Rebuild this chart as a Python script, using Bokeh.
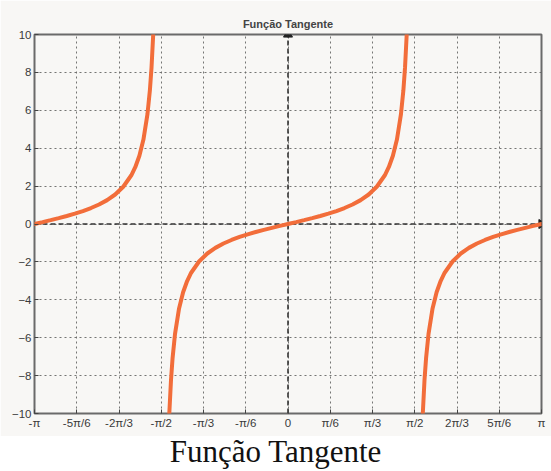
import math
from bokeh.plotting import figure
from bokeh.models import FixedTicker, LinearAxis, Range1d, Div
from bokeh.layouts import column
from bokeh.embed import file_html
from bokeh.resources import INLINE

# ---- data (y = tan x on three branches) ----
branch1_x = [-3.1416, -3.0416, -2.9416, -2.8416, -2.7416, -2.6416, -2.5416, -2.4416, -2.3416,
             -2.2416, -2.1416, -2.0416, -1.9416, -1.8916, -1.8416, -1.7916, -1.7416, -1.7116,
             -1.6916, -1.6705]
branch1_y = [0.0, 0.1003, 0.2027, 0.3093, 0.4228, 0.5463, 0.6841, 0.8423, 1.0296,
             1.2602, 1.5574, 1.9648, 2.5722, 3.0096, 3.6021, 4.4552, 5.7979, 7.0555,
             8.2381, 10.0]

branch2_x = [-1.4711, -1.45, -1.43, -1.4, -1.35, -1.3, -1.25, -1.2, -1.1, -1.0, -0.9, -0.8,
             -0.7, -0.6, -0.5, -0.4, -0.3, -0.2, -0.1, 0.0, 0.1, 0.2, 0.3, 0.4, 0.5, 0.6,
             0.7, 0.8, 0.9, 1.0, 1.1, 1.2, 1.25, 1.3, 1.35, 1.4, 1.43, 1.45, 1.4711]
branch2_y = [-10.0, -8.2381, -7.0555, -5.7979, -4.4552, -3.6021, -3.0096, -2.5722, -1.9648,
             -1.5574, -1.2602, -1.0296, -0.8423, -0.6841, -0.5463, -0.4228, -0.3093, -0.2027,
             -0.1003, 0.0, 0.1003, 0.2027, 0.3093, 0.4228, 0.5463, 0.6841, 0.8423, 1.0296,
             1.2602, 1.5574, 1.9648, 2.5722, 3.0096, 3.6021, 4.4552, 5.7979, 7.0555, 8.2381,
             10.0]

branch3_x = [1.6705, 1.6916, 1.7116, 1.7416, 1.7916, 1.8416, 1.8916, 1.9416, 2.0416, 2.1416,
             2.2416, 2.3416, 2.4416, 2.5416, 2.6416, 2.7416, 2.8416, 2.9416, 3.0416, 3.1416]
branch3_y = [-10.0, -8.2381, -7.0555, -5.7979, -4.4552, -3.6021, -3.0096, -2.5722, -1.9648,
             -1.5574, -1.2602, -1.0296, -0.8423, -0.6841, -0.5463, -0.4228, -0.3093, -0.2027,
             -0.1003, 0.0]

x_tick_sixths = [-6, -5, -4, -3, -2, -1, 0, 1, 2, 3, 4, 5, 6]
x_tick_labels = ["-π", "-5π/6", "-2π/3", "-π/2", "-π/3", "-π/6", "0",
                 "π/6", "π/3", "π/2", "2π/3", "5π/6", "π"]
y_ticks = [-10, -8, -6, -4, -2, 0, 2, 4, 6, 8, 10]

title_text = "Função Tangente"
caption_text = "Função Tangente"

# ---- figure ----
x_ticks = [k * math.pi / 6 for k in x_tick_sixths]
xmin, xmax = x_ticks[0], x_ticks[-1]
ymin, ymax = y_ticks[0], y_ticks[-1]

BG = "#f8f7f5"
p = figure(width=551, height=436, output_backend="svg", toolbar_location=None,
           x_range=Range1d(xmin, xmax), y_range=Range1d(ymin, ymax),
           x_axis_location=None, y_axis_location=None,
           min_border_left=34, min_border_right=10, min_border_top=34, min_border_bottom=23,
           background_fill_color=BG, border_fill_color=BG)

p.title.text = title_text
p.title.align = "center"
p.title.text_font = "Liberation Sans"
p.title.text_font_size = "11px"
p.title.text_font_style = "bold"
p.title.text_color = "#444444"
p.title.offset = 0

p.outline_line_color = "#6a6a6a"
p.outline_line_width = 2

overrides = {t: lab for t, lab in zip(x_ticks, x_tick_labels)}

def style_axis(ax):
    ax.axis_line_color = None
    ax.major_tick_in = 4
    ax.major_tick_out = 0
    ax.major_tick_line_color = "#444444"
    ax.major_tick_line_width = 1
    ax.minor_tick_line_color = None
    ax.major_label_text_font = "Liberation Sans"
    ax.major_label_text_color = "#3a3a3a"
    ax.major_label_text_font_size = "11.5px"
    ax.major_label_standoff = 3

bottom = LinearAxis(ticker=FixedTicker(ticks=x_ticks), major_label_overrides=overrides)
left = LinearAxis(ticker=FixedTicker(ticks=y_ticks))
style_axis(bottom)
style_axis(left)
p.add_layout(bottom, "below")
p.add_layout(left, "left")

p.xgrid.ticker = FixedTicker(ticks=x_ticks)
p.ygrid.ticker = FixedTicker(ticks=y_ticks)
for g in (p.xgrid, p.ygrid):
    g.grid_line_color = "#666666"
    g.grid_line_dash = "2 3"
    g.grid_line_width = 1
    g.grid_line_alpha = 0.9

# zero axes (dashed) with arrow heads
p.segment(x0=[0, xmin], y0=[ymin, 0], x1=[0, xmax], y1=[ymax, 0],
          line_color="#333333", line_width=1.6, line_dash="5 3")
p.scatter(x=[0], y=[ymax], marker="triangle", size=9, fill_color="#222222",
          line_color="#222222")
p.scatter(x=[xmax], y=[0], marker="triangle", angle=-math.pi / 2, size=9,
          fill_color="#222222", line_color="#222222")

curve_color = "#f26d3a"
for bx, by in ((branch1_x, branch1_y), (branch2_x, branch2_y), (branch3_x, branch3_y)):
    p.line(bx, by, line_color=curve_color, line_width=4, line_cap="round")

caption = Div(text=caption_text, width=551, height=35,
              styles={"font-family": "'Liberation Serif', 'Times New Roman', serif",
                      "font-size": "31px", "color": "#111111", "text-align": "center",
                      "width": "551px", "line-height": "32px", "margin": "0",
                      "background": "white"})

layout = column(p, caption, spacing=0)
open("out.html", "w").write(file_html(layout, INLINE))
